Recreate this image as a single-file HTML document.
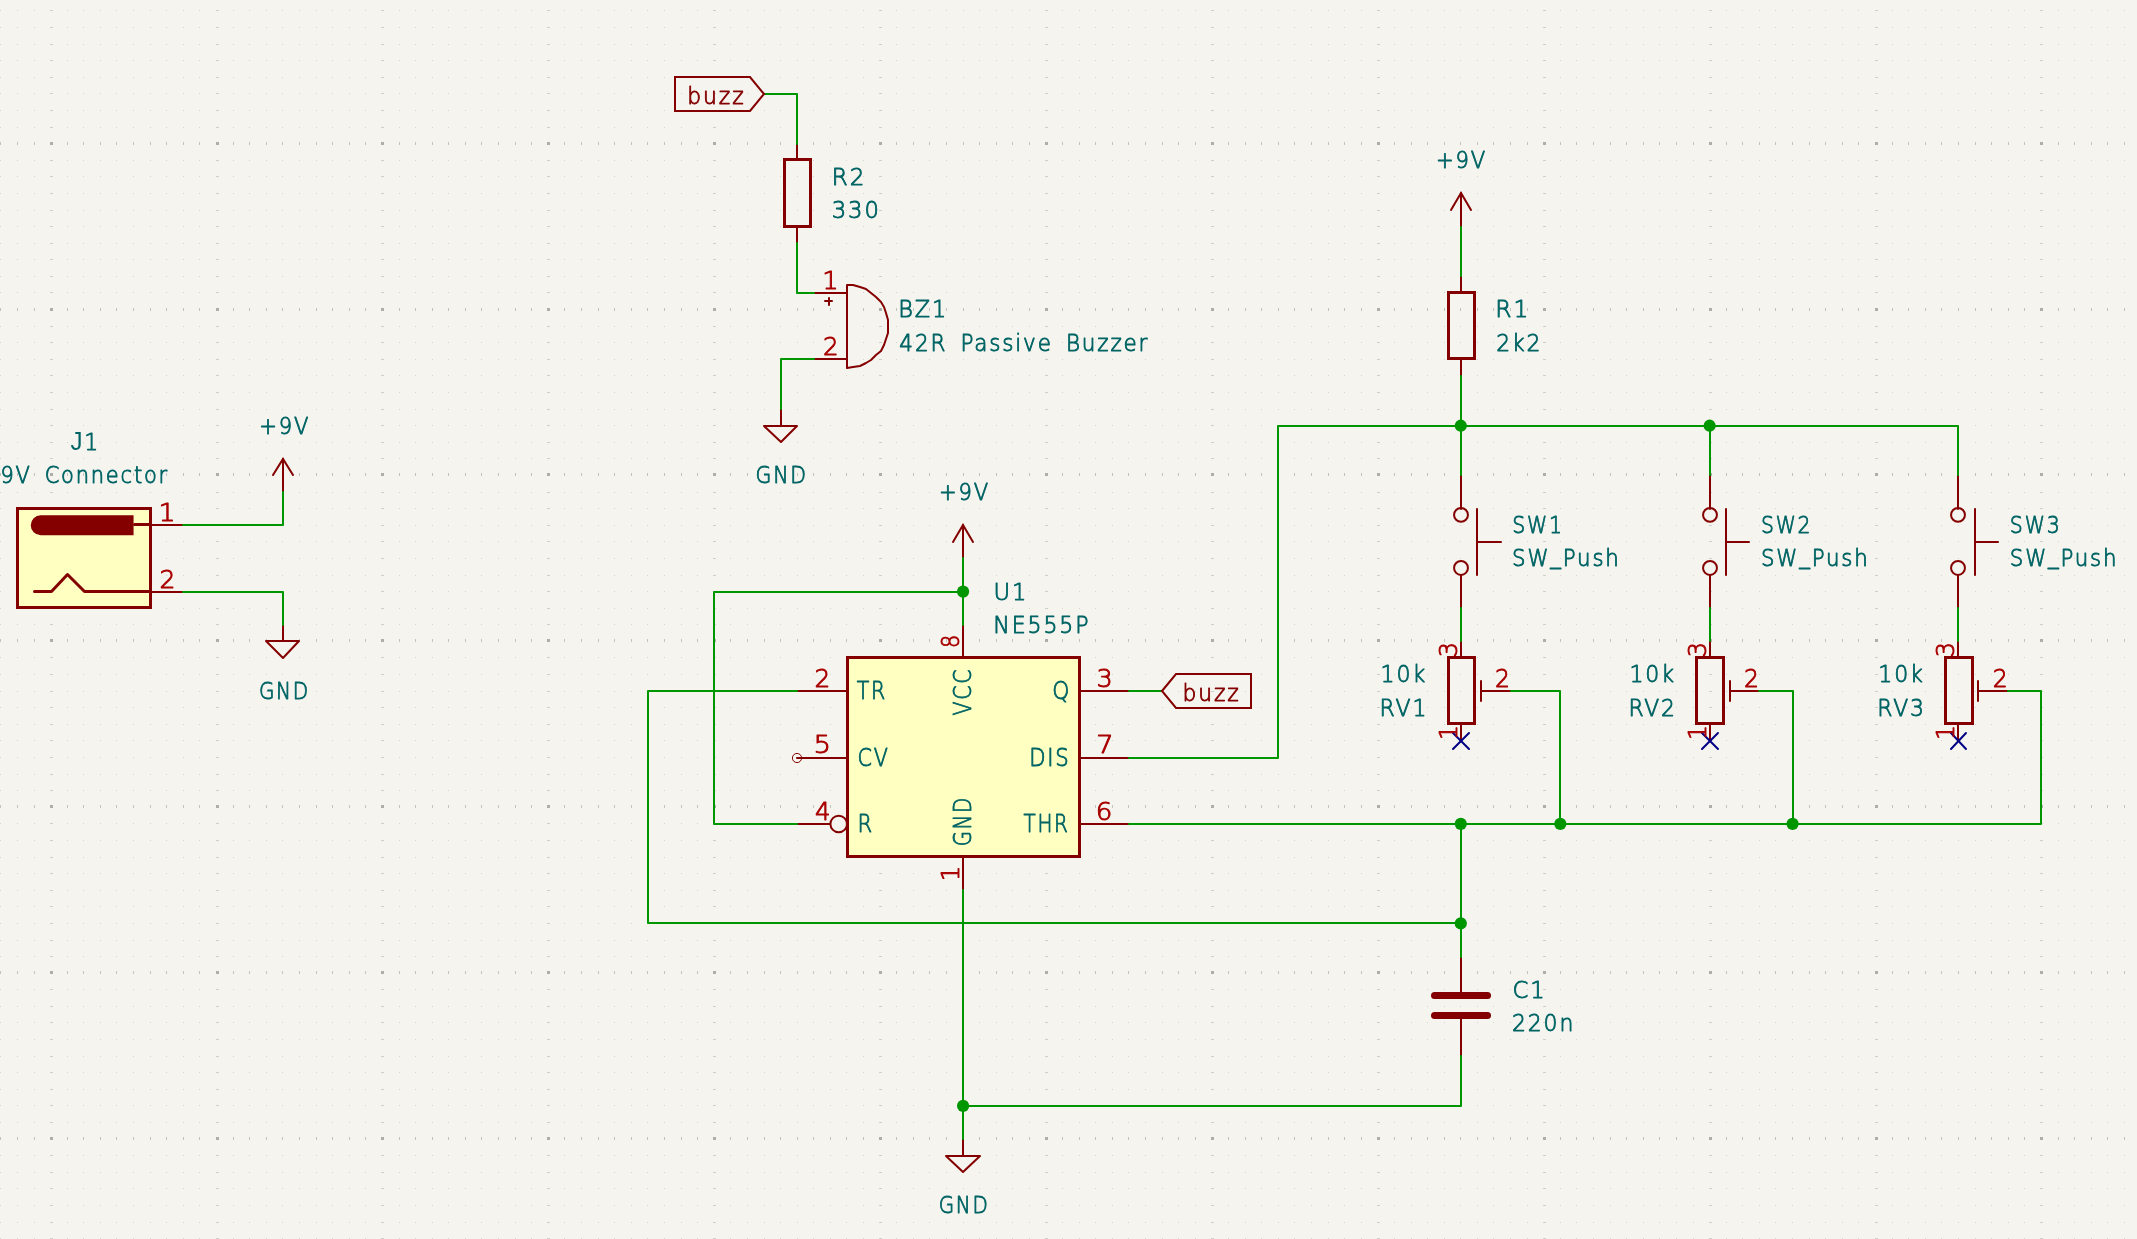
<!DOCTYPE html>
<html><head><meta charset="utf-8"><title>555 buzzer schematic</title>
<style>html,body{margin:0;padding:0;background:#F5F4EF;overflow:hidden}svg{display:block;will-change:transform}</style></head>
<body>
<svg width="2137" height="1239" viewBox="0 0 2137 1239">
<rect width="2137" height="1239" fill="#F5F4EF"/>
<defs><g id="gr" fill="none" stroke-width="1"><path d="M-16 0h1M0 0h1M17 0h1M34 0h1M67 0h1M83 0h1M100 0h1M116 0h1M133 0h1M150 0h1M166 0h1M183 0h1M199 0h1M233 0h1M249 0h1M266 0h1M282 0h1M299 0h1M316 0h1M332 0h1M349 0h1M365 0h1M399 0h1M415 0h1M432 0h1M448 0h1M465 0h1M481 0h1M498 0h1M515 0h1M531 0h1M564 0h1M581 0h1M598 0h1M614 0h1M631 0h1M647 0h1M664 0h1M681 0h1M697 0h1M730 0h1M747 0h1M764 0h1M780 0h1M797 0h1M813 0h1M830 0h1M846 0h1M863 0h1M896 0h1M913 0h1M929 0h1M946 0h1M963 0h1M979 0h1M996 0h1M1012 0h1M1029 0h1M1062 0h1M1079 0h1M1095 0h1M1112 0h1M1128 0h1M1145 0h1M1162 0h1M1178 0h1M1195 0h1M1228 0h1M1245 0h1M1261 0h1M1278 0h1M1294 0h1M1311 0h1M1328 0h1M1344 0h1M1361 0h1M1394 0h1M1411 0h1M1427 0h1M1444 0h1M1460 0h1M1477 0h1M1493 0h1M1510 0h1M1527 0h1M1560 0h1M1576 0h1M1593 0h1M1610 0h1M1626 0h1M1643 0h1M1659 0h1M1676 0h1M1693 0h1M1726 0h1M1742 0h1M1759 0h1M1775 0h1M1792 0h1M1809 0h1M1825 0h1M1842 0h1M1858 0h1M1892 0h1M1908 0h1M1925 0h1M1941 0h1M1958 0h1M1975 0h1M1991 0h1M2008 0h1M2024 0h1M2058 0h1M2074 0h1M2091 0h1M2107 0h1M2124 0h1" stroke="#d4d4d1"/><path d="M50 0h3M216 0h3M381 0h3M547 0h3M713 0h3M879 0h3M1045 0h3M1211 0h3M1377 0h3M1543 0h3M1709 0h3M1875 0h3M2040 0h3" stroke="#cececb"/></g><g id="gb" fill="none" stroke-width="3"><path d="M-16 0h1M0 0h1M17 0h1M34 0h1M67 0h1M83 0h1M100 0h1M116 0h1M133 0h1M150 0h1M166 0h1M183 0h1M199 0h1M233 0h1M249 0h1M266 0h1M282 0h1M299 0h1M316 0h1M332 0h1M349 0h1M365 0h1M399 0h1M415 0h1M432 0h1M448 0h1M465 0h1M481 0h1M498 0h1M515 0h1M531 0h1M564 0h1M581 0h1M598 0h1M614 0h1M631 0h1M647 0h1M664 0h1M681 0h1M697 0h1M730 0h1M747 0h1M764 0h1M780 0h1M797 0h1M813 0h1M830 0h1M846 0h1M863 0h1M896 0h1M913 0h1M929 0h1M946 0h1M963 0h1M979 0h1M996 0h1M1012 0h1M1029 0h1M1062 0h1M1079 0h1M1095 0h1M1112 0h1M1128 0h1M1145 0h1M1162 0h1M1178 0h1M1195 0h1M1228 0h1M1245 0h1M1261 0h1M1278 0h1M1294 0h1M1311 0h1M1328 0h1M1344 0h1M1361 0h1M1394 0h1M1411 0h1M1427 0h1M1444 0h1M1460 0h1M1477 0h1M1493 0h1M1510 0h1M1527 0h1M1560 0h1M1576 0h1M1593 0h1M1610 0h1M1626 0h1M1643 0h1M1659 0h1M1676 0h1M1693 0h1M1726 0h1M1742 0h1M1759 0h1M1775 0h1M1792 0h1M1809 0h1M1825 0h1M1842 0h1M1858 0h1M1892 0h1M1908 0h1M1925 0h1M1941 0h1M1958 0h1M1975 0h1M1991 0h1M2008 0h1M2024 0h1M2058 0h1M2074 0h1M2091 0h1M2107 0h1M2124 0h1" stroke="#c2c2bf"/><path d="M50 0h3M216 0h3M381 0h3M547 0h3M713 0h3M879 0h3M1045 0h3M1211 0h3M1377 0h3M1543 0h3M1709 0h3M1875 0h3M2040 0h3" stroke="#adadab"/></g></defs>
<g shape-rendering="crispEdges"><use href="#gb" y="-22.5"/><use href="#gr" y="-5.5"/><use href="#gr" y="10.5"/><use href="#gr" y="27.5"/><use href="#gr" y="44.5"/><use href="#gr" y="60.5"/><use href="#gr" y="77.5"/><use href="#gr" y="93.5"/><use href="#gr" y="110.5"/><use href="#gr" y="127.5"/><use href="#gb" y="143.5"/><use href="#gr" y="160.5"/><use href="#gr" y="176.5"/><use href="#gr" y="193.5"/><use href="#gr" y="210.5"/><use href="#gr" y="226.5"/><use href="#gr" y="243.5"/><use href="#gr" y="259.5"/><use href="#gr" y="276.5"/><use href="#gr" y="292.5"/><use href="#gb" y="309.5"/><use href="#gr" y="326.5"/><use href="#gr" y="342.5"/><use href="#gr" y="359.5"/><use href="#gr" y="375.5"/><use href="#gr" y="392.5"/><use href="#gr" y="409.5"/><use href="#gr" y="425.5"/><use href="#gr" y="442.5"/><use href="#gr" y="458.5"/><use href="#gb" y="474.5"/><use href="#gr" y="492.5"/><use href="#gr" y="508.5"/><use href="#gr" y="525.5"/><use href="#gr" y="541.5"/><use href="#gr" y="558.5"/><use href="#gr" y="575.5"/><use href="#gr" y="591.5"/><use href="#gr" y="608.5"/><use href="#gr" y="624.5"/><use href="#gb" y="640.5"/><use href="#gr" y="657.5"/><use href="#gr" y="674.5"/><use href="#gr" y="691.5"/><use href="#gr" y="707.5"/><use href="#gr" y="724.5"/><use href="#gr" y="740.5"/><use href="#gr" y="757.5"/><use href="#gr" y="774.5"/><use href="#gr" y="790.5"/><use href="#gb" y="806.5"/><use href="#gr" y="823.5"/><use href="#gr" y="840.5"/><use href="#gr" y="857.5"/><use href="#gr" y="873.5"/><use href="#gr" y="890.5"/><use href="#gr" y="906.5"/><use href="#gr" y="923.5"/><use href="#gr" y="940.5"/><use href="#gr" y="956.5"/><use href="#gb" y="972.5"/><use href="#gr" y="989.5"/><use href="#gr" y="1006.5"/><use href="#gr" y="1022.5"/><use href="#gr" y="1039.5"/><use href="#gr" y="1056.5"/><use href="#gr" y="1072.5"/><use href="#gr" y="1089.5"/><use href="#gr" y="1105.5"/><use href="#gr" y="1122.5"/><use href="#gb" y="1138.5"/><use href="#gr" y="1155.5"/><use href="#gr" y="1172.5"/><use href="#gr" y="1188.5"/><use href="#gr" y="1205.5"/><use href="#gr" y="1222.5"/><use href="#gr" y="1238.5"/></g>
<rect x="17.45" y="508.66" width="132.72" height="99.54" fill="#FFFFC2"/>
<path d="M17.5 508.5 L150.5 508.5 L150.5 607.5 L17.5 607.5 Z" stroke="#840000" stroke-width="3" fill="none" stroke-linecap="round" stroke-linejoin="miter"/>
<path d="M40.68 516.96 L131.92 516.96 L131.92 533.55 L40.68 533.55 A8.29 8.29 0 0 1 40.68 516.96 Z" fill="#840000" stroke="#840000" stroke-width="3.3" stroke-linejoin="miter"/>
<path d="M150.5 524.5 L134.5 524.5" stroke="#840000" stroke-width="3" fill="none" stroke-linecap="round" stroke-linejoin="round"/>
<path d="M34.5 591.5 L51.5 591.5 L67.5 574.5 L84.5 591.5 L117.5 591.5 L150.5 591.5" stroke="#840000" stroke-width="3" fill="none" stroke-linecap="round" stroke-linejoin="round"/>
<path d="M183 525 L150 525" stroke="#840000" stroke-width="2" fill="none" stroke-linecap="round" stroke-linejoin="round"/>
<path d="M183 592 L150 592" stroke="#840000" stroke-width="2" fill="none" stroke-linecap="round" stroke-linejoin="round"/>
<path d="M283 492 L283 459" stroke="#840000" stroke-width="2" fill="none" stroke-linecap="round" stroke-linejoin="round"/>
<path d="M273 475 L283 459 L293 475" stroke="#840000" stroke-width="2" fill="none" stroke-linecap="round" stroke-linejoin="miter"/>
<path d="M283 625 L283 641 L299 641 L283 658 L266 641 L283 641" stroke="#840000" stroke-width="2" fill="none" stroke-linecap="round" stroke-linejoin="round"/>
<path d="M797 144 L797 160" stroke="#840000" stroke-width="2" fill="none" stroke-linecap="round" stroke-linejoin="round"/>
<path d="M797 243 L797 227" stroke="#840000" stroke-width="2" fill="none" stroke-linecap="round" stroke-linejoin="round"/>
<path d="M784.5 159.5 L810.5 159.5 L810.5 226.5 L784.5 226.5 Z" stroke="#840000" stroke-width="3" fill="none" stroke-linecap="round" stroke-linejoin="miter"/>
<path d="M814 293 L847 293" stroke="#840000" stroke-width="2" fill="none" stroke-linecap="round" stroke-linejoin="round"/>
<path d="M814 359 L847 359" stroke="#840000" stroke-width="2" fill="none" stroke-linecap="round" stroke-linejoin="round"/>
<path d="M847 368 L847 285 L853 285 L860 287 L866 289 L871 293 L876 297 L881 302 L884 307 L886 313 L888 320 L888 326 L888 333 L886 339 L884 345 L881 351 L876 355 L871 360 L866 363 L860 366 L853 367 L847 368" stroke="#840000" stroke-width="2" fill="none" stroke-linecap="round" stroke-linejoin="round"/>
<path d="M825 301 L832 301" stroke="#840000" stroke-width="2" fill="none" stroke-linecap="round" stroke-linejoin="round"/>
<path d="M829 298 L829 305" stroke="#840000" stroke-width="2" fill="none" stroke-linecap="round" stroke-linejoin="round"/>
<path d="M781 409 L781 426 L797 426 L781 442 L764 426 L781 426" stroke="#840000" stroke-width="2" fill="none" stroke-linecap="round" stroke-linejoin="round"/>
<rect x="846.95" y="657.97" width="232.26" height="199.08" fill="#FFFFC2"/>
<path d="M847.5 657.5 L1079.5 657.5 L1079.5 856.5 L847.5 856.5 Z" stroke="#840000" stroke-width="3" fill="none" stroke-linecap="round" stroke-linejoin="miter"/>
<path d="M797 691 L847 691" stroke="#840000" stroke-width="2" fill="none" stroke-linecap="round" stroke-linejoin="round"/>
<path d="M797 758 L847 758" stroke="#840000" stroke-width="2" fill="none" stroke-linecap="round" stroke-linejoin="round"/>
<path d="M797 824 L830 824" stroke="#840000" stroke-width="2" fill="none" stroke-linecap="round" stroke-linejoin="round"/>
<circle cx="838.71" cy="824" r="8.29" stroke="#840000" stroke-width="2" fill="none"/>
<circle cx="797" cy="758" r="4.6" stroke="#840000" stroke-width="1" fill="none"/>
<path d="M1079 691 L1129 691" stroke="#840000" stroke-width="2" fill="none" stroke-linecap="round" stroke-linejoin="round"/>
<path d="M1079 758 L1129 758" stroke="#840000" stroke-width="2" fill="none" stroke-linecap="round" stroke-linejoin="round"/>
<path d="M1079 824 L1129 824" stroke="#840000" stroke-width="2" fill="none" stroke-linecap="round" stroke-linejoin="round"/>
<path d="M963 625 L963 658" stroke="#840000" stroke-width="2" fill="none" stroke-linecap="round" stroke-linejoin="round"/>
<path d="M963 890 L963 857" stroke="#840000" stroke-width="2" fill="none" stroke-linecap="round" stroke-linejoin="round"/>
<path d="M963 558 L963 525" stroke="#840000" stroke-width="2" fill="none" stroke-linecap="round" stroke-linejoin="round"/>
<path d="M953 542 L963 525 L973 542" stroke="#840000" stroke-width="2" fill="none" stroke-linecap="round" stroke-linejoin="miter"/>
<path d="M963 1139 L963 1156 L980 1156 L963 1172 L946 1156 L963 1156" stroke="#840000" stroke-width="2" fill="none" stroke-linecap="round" stroke-linejoin="round"/>
<path d="M1461 227 L1461 193" stroke="#840000" stroke-width="2" fill="none" stroke-linecap="round" stroke-linejoin="round"/>
<path d="M1451 210 L1461 193 L1471 210" stroke="#840000" stroke-width="2" fill="none" stroke-linecap="round" stroke-linejoin="miter"/>
<path d="M1461 276 L1461 293" stroke="#840000" stroke-width="2" fill="none" stroke-linecap="round" stroke-linejoin="round"/>
<path d="M1461 376 L1461 359" stroke="#840000" stroke-width="2" fill="none" stroke-linecap="round" stroke-linejoin="round"/>
<path d="M1448.5 292.5 L1474.5 292.5 L1474.5 358.5 L1448.5 358.5 Z" stroke="#840000" stroke-width="3" fill="none" stroke-linecap="round" stroke-linejoin="miter"/>
<path d="M1461 475 L1461 509" stroke="#840000" stroke-width="2" fill="none" stroke-linecap="round" stroke-linejoin="round"/>
<path d="M1461 608 L1461 575" stroke="#840000" stroke-width="2" fill="none" stroke-linecap="round" stroke-linejoin="round"/>
<circle cx="1461" cy="514.9" r="6.94" stroke="#840000" stroke-width="2" fill="none"/>
<circle cx="1461" cy="567.98" r="6.94" stroke="#840000" stroke-width="2" fill="none"/>
<path d="M1477 509 L1477 575" stroke="#840000" stroke-width="2" fill="none" stroke-linecap="round" stroke-linejoin="round"/>
<path d="M1477 542 L1501 542" stroke="#840000" stroke-width="2" fill="none" stroke-linecap="round" stroke-linejoin="round"/>
<path d="M1461 641 L1461 658" stroke="#840000" stroke-width="2" fill="none" stroke-linecap="round" stroke-linejoin="round"/>
<path d="M1461 741 L1461 724" stroke="#840000" stroke-width="2" fill="none" stroke-linecap="round" stroke-linejoin="round"/>
<path d="M1448.5 657.5 L1474.5 657.5 L1474.5 723.5 L1448.5 723.5 Z" stroke="#840000" stroke-width="3" fill="none" stroke-linecap="round" stroke-linejoin="miter"/>
<path d="M1481 681 L1481 701" stroke="#840000" stroke-width="2" fill="none" stroke-linecap="round" stroke-linejoin="round"/>
<path d="M1511 691 L1481 691" stroke="#840000" stroke-width="2" fill="none" stroke-linecap="round" stroke-linejoin="round"/>
<path d="M1453 733 L1469 749" stroke="#000084" stroke-width="2" fill="none" stroke-linecap="round" stroke-linejoin="round"/>
<path d="M1453 749 L1469 733" stroke="#000084" stroke-width="2" fill="none" stroke-linecap="round" stroke-linejoin="round"/>
<path d="M1710 475 L1710 509" stroke="#840000" stroke-width="2" fill="none" stroke-linecap="round" stroke-linejoin="round"/>
<path d="M1710 608 L1710 575" stroke="#840000" stroke-width="2" fill="none" stroke-linecap="round" stroke-linejoin="round"/>
<circle cx="1710" cy="514.9" r="6.94" stroke="#840000" stroke-width="2" fill="none"/>
<circle cx="1710" cy="567.98" r="6.94" stroke="#840000" stroke-width="2" fill="none"/>
<path d="M1726 509 L1726 575" stroke="#840000" stroke-width="2" fill="none" stroke-linecap="round" stroke-linejoin="round"/>
<path d="M1726 542 L1749 542" stroke="#840000" stroke-width="2" fill="none" stroke-linecap="round" stroke-linejoin="round"/>
<path d="M1710 641 L1710 658" stroke="#840000" stroke-width="2" fill="none" stroke-linecap="round" stroke-linejoin="round"/>
<path d="M1710 741 L1710 724" stroke="#840000" stroke-width="2" fill="none" stroke-linecap="round" stroke-linejoin="round"/>
<path d="M1696.5 657.5 L1723.5 657.5 L1723.5 723.5 L1696.5 723.5 Z" stroke="#840000" stroke-width="3" fill="none" stroke-linecap="round" stroke-linejoin="miter"/>
<path d="M1730 681 L1730 701" stroke="#840000" stroke-width="2" fill="none" stroke-linecap="round" stroke-linejoin="round"/>
<path d="M1759 691 L1730 691" stroke="#840000" stroke-width="2" fill="none" stroke-linecap="round" stroke-linejoin="round"/>
<path d="M1702 733 L1718 749" stroke="#000084" stroke-width="2" fill="none" stroke-linecap="round" stroke-linejoin="round"/>
<path d="M1702 749 L1718 733" stroke="#000084" stroke-width="2" fill="none" stroke-linecap="round" stroke-linejoin="round"/>
<path d="M1958 475 L1958 509" stroke="#840000" stroke-width="2" fill="none" stroke-linecap="round" stroke-linejoin="round"/>
<path d="M1958 608 L1958 575" stroke="#840000" stroke-width="2" fill="none" stroke-linecap="round" stroke-linejoin="round"/>
<circle cx="1958" cy="514.9" r="6.94" stroke="#840000" stroke-width="2" fill="none"/>
<circle cx="1958" cy="567.98" r="6.94" stroke="#840000" stroke-width="2" fill="none"/>
<path d="M1975 509 L1975 575" stroke="#840000" stroke-width="2" fill="none" stroke-linecap="round" stroke-linejoin="round"/>
<path d="M1975 542 L1998 542" stroke="#840000" stroke-width="2" fill="none" stroke-linecap="round" stroke-linejoin="round"/>
<path d="M1958 641 L1958 658" stroke="#840000" stroke-width="2" fill="none" stroke-linecap="round" stroke-linejoin="round"/>
<path d="M1958 741 L1958 724" stroke="#840000" stroke-width="2" fill="none" stroke-linecap="round" stroke-linejoin="round"/>
<path d="M1945.5 657.5 L1972.5 657.5 L1972.5 723.5 L1945.5 723.5 Z" stroke="#840000" stroke-width="3" fill="none" stroke-linecap="round" stroke-linejoin="miter"/>
<path d="M1978 681 L1978 701" stroke="#840000" stroke-width="2" fill="none" stroke-linecap="round" stroke-linejoin="round"/>
<path d="M2008 691 L1978 691" stroke="#840000" stroke-width="2" fill="none" stroke-linecap="round" stroke-linejoin="round"/>
<path d="M1951 733 L1966 749" stroke="#000084" stroke-width="2" fill="none" stroke-linecap="round" stroke-linejoin="round"/>
<path d="M1951 749 L1966 733" stroke="#000084" stroke-width="2" fill="none" stroke-linecap="round" stroke-linejoin="round"/>
<path d="M1461 957 L1461 996" stroke="#840000" stroke-width="2" fill="none" stroke-linecap="round" stroke-linejoin="round"/>
<path d="M1461 1056 L1461 1016" stroke="#840000" stroke-width="2" fill="none" stroke-linecap="round" stroke-linejoin="round"/>
<path d="M1434.5 995.5 L1487.5 995.5" stroke="#840000" stroke-width="7" fill="none" stroke-linecap="round" stroke-linejoin="round"/>
<path d="M1434.5 1015.5 L1487.5 1015.5" stroke="#840000" stroke-width="7" fill="none" stroke-linecap="round" stroke-linejoin="round"/>
<path d="M183 525 L283 525 L283 492" stroke="#009600" stroke-width="2" fill="none" stroke-linecap="round" stroke-linejoin="round"/>
<path d="M183 592 L283 592 L283 625" stroke="#009600" stroke-width="2" fill="none" stroke-linecap="round" stroke-linejoin="round"/>
<path d="M764 94 L797 94 L797 144" stroke="#009600" stroke-width="2" fill="none" stroke-linecap="round" stroke-linejoin="round"/>
<path d="M797 243 L797 293 L814 293" stroke="#009600" stroke-width="2" fill="none" stroke-linecap="round" stroke-linejoin="round"/>
<path d="M814 359 L781 359 L781 409" stroke="#009600" stroke-width="2" fill="none" stroke-linecap="round" stroke-linejoin="round"/>
<path d="M963 558 L963 625" stroke="#009600" stroke-width="2" fill="none" stroke-linecap="round" stroke-linejoin="round"/>
<path d="M963 592 L714 592 L714 824 L797 824" stroke="#009600" stroke-width="2" fill="none" stroke-linecap="round" stroke-linejoin="round"/>
<path d="M797 691 L648 691 L648 923 L1461 923" stroke="#009600" stroke-width="2" fill="none" stroke-linecap="round" stroke-linejoin="round"/>
<path d="M963 890 L963 1139" stroke="#009600" stroke-width="2" fill="none" stroke-linecap="round" stroke-linejoin="round"/>
<path d="M963 1106 L1461 1106 L1461 1056" stroke="#009600" stroke-width="2" fill="none" stroke-linecap="round" stroke-linejoin="round"/>
<path d="M1129 691 L1162 691" stroke="#009600" stroke-width="2" fill="none" stroke-linecap="round" stroke-linejoin="round"/>
<path d="M1129 758 L1278 758 L1278 426 L1958 426 L1958 475" stroke="#009600" stroke-width="2" fill="none" stroke-linecap="round" stroke-linejoin="round"/>
<path d="M1461 227 L1461 276" stroke="#009600" stroke-width="2" fill="none" stroke-linecap="round" stroke-linejoin="round"/>
<path d="M1461 376 L1461 475" stroke="#009600" stroke-width="2" fill="none" stroke-linecap="round" stroke-linejoin="round"/>
<path d="M1710 426 L1710 475" stroke="#009600" stroke-width="2" fill="none" stroke-linecap="round" stroke-linejoin="round"/>
<path d="M1461 608 L1461 641" stroke="#009600" stroke-width="2" fill="none" stroke-linecap="round" stroke-linejoin="round"/>
<path d="M1710 608 L1710 641" stroke="#009600" stroke-width="2" fill="none" stroke-linecap="round" stroke-linejoin="round"/>
<path d="M1958 608 L1958 641" stroke="#009600" stroke-width="2" fill="none" stroke-linecap="round" stroke-linejoin="round"/>
<path d="M1129 824 L2041 824 L2041 691 L2008 691" stroke="#009600" stroke-width="2" fill="none" stroke-linecap="round" stroke-linejoin="round"/>
<path d="M1511 691 L1560 691 L1560 824" stroke="#009600" stroke-width="2" fill="none" stroke-linecap="round" stroke-linejoin="round"/>
<path d="M1759 691 L1793 691 L1793 824" stroke="#009600" stroke-width="2" fill="none" stroke-linecap="round" stroke-linejoin="round"/>
<path d="M1461 824 L1461 957" stroke="#009600" stroke-width="2" fill="none" stroke-linecap="round" stroke-linejoin="round"/>
<circle cx="963.08" cy="591.61" r="6.1" fill="#009600"/>
<circle cx="1460.78" cy="425.71" r="6.1" fill="#009600"/>
<circle cx="1709.63" cy="425.71" r="6.1" fill="#009600"/>
<circle cx="1460.78" cy="823.87" r="6.1" fill="#009600"/>
<circle cx="1560.32" cy="823.87" r="6.1" fill="#009600"/>
<circle cx="1792.58" cy="823.87" r="6.1" fill="#009600"/>
<circle cx="1460.78" cy="923.41" r="6.1" fill="#009600"/>
<circle cx="963.08" cy="1105.9" r="6.1" fill="#009600"/>
<path d="M764 94 L750 77 L675 77 L675 111 L750 111 Z" stroke="#840000" stroke-width="2" fill="none" stroke-linecap="round" stroke-linejoin="miter"/>
<path d="M1162 691 L1176 674 L1251 674 L1251 708 L1176 708 Z" stroke="#840000" stroke-width="2" fill="none" stroke-linecap="round" stroke-linejoin="miter"/>
<g style="font-family:'DejaVu Sans','Liberation Sans',sans-serif;font-weight:200;font-size:23.5px;letter-spacing:2px;word-spacing:5px;stroke-width:0.9;stroke-linejoin:round;stroke-linecap:round">
<text transform="translate(70.41 450.2) scale(0.9363 1)" fill="#006464" stroke="#006464"><tspan font-family="Liberation Sans" font-weight="400" font-size="1.09em" stroke-width="0">J</tspan>1</text>
<text transform="translate(0.46 483.38) scale(0.8933 1)" fill="#006464" stroke="#006464">9V Connector</text>
<text transform="translate(259.19 433.61) scale(0.8982 1)" fill="#006464" stroke="#006464">+9V</text>
<text transform="translate(258.88 699.05) scale(0.8494 1)" fill="#006464" stroke="#006464">GND</text>
<text transform="translate(831.85 184.76) scale(0.9798 1)" fill="#006464" stroke="#006464">R2</text>
<text transform="translate(831.74 217.94) scale(0.9658 1)" fill="#006464" stroke="#006464">330</text>
<text transform="translate(898.21 317.48) scale(0.9539 1)" fill="#006464" stroke="#006464">BZ1</text>
<text transform="translate(899.37 350.66) scale(0.9153 1)" fill="#006464" stroke="#006464">42R Passive Buzzer</text>
<text transform="translate(755.54 483.38) scale(0.8713 1)" fill="#006464" stroke="#006464">GND</text>
<text transform="translate(938.99 499.97) scale(0.8982 1)" fill="#006464" stroke="#006464">+9V</text>
<text transform="translate(993.45 599.51) scale(0.9662 1)" fill="#006464" stroke="#006464">U1</text>
<text transform="translate(993.3 632.69) scale(0.9389 1)" fill="#006464" stroke="#006464">NE555P</text>
<text transform="translate(1435.98 168.17) scale(0.9020 1)" fill="#006464" stroke="#006464">+9V</text>
<text transform="translate(1495.21 317.48) scale(0.9955 1)" fill="#006464" stroke="#006464">R1</text>
<text transform="translate(1496.16 350.66) scale(0.9314 1)" fill="#006464" stroke="#006464">2k2</text>
<text transform="translate(1512.17 533.15) scale(0.8726 1)" fill="#006464" stroke="#006464">SW1</text>
<text transform="translate(1512.11 566.33) scale(0.9073 1)" fill="#006464" stroke="#006464">SW<tspan dy="-3.6">_</tspan><tspan dy="3.6">Push</tspan></text>
<text transform="translate(1380.56 682.46) scale(0.9394 1)" fill="#006464" stroke="#006464">10k</text>
<text transform="translate(1379.55 715.64) scale(0.9359 1)" fill="#006464" stroke="#006464">RV1</text>
<text transform="translate(1456.68 657.26) rotate(-90) scale(0.9941 1)" font-size="24" fill="#A90000" stroke="#A90000">3</text>
<text transform="translate(1495.06 687.05) scale(0.9792 1)" font-size="24" fill="#A90000" stroke="#A90000">2</text>
<text transform="translate(1456.68 739.9) rotate(-90) scale(0.9815 1)" font-size="24" fill="#A90000" stroke="#A90000">1</text>
<text transform="translate(1761.03 533.15) scale(0.8669 1)" fill="#006464" stroke="#006464">SW2</text>
<text transform="translate(1760.96 566.33) scale(0.9073 1)" fill="#006464" stroke="#006464">SW<tspan dy="-3.6">_</tspan><tspan dy="3.6">Push</tspan></text>
<text transform="translate(1629.41 682.46) scale(0.9394 1)" fill="#006464" stroke="#006464">10k</text>
<text transform="translate(1628.42 715.64) scale(0.9298 1)" fill="#006464" stroke="#006464">RV2</text>
<text transform="translate(1705.53 657.26) rotate(-90) scale(0.9941 1)" font-size="24" fill="#A90000" stroke="#A90000">3</text>
<text transform="translate(1743.91 687.05) scale(0.9792 1)" font-size="24" fill="#A90000" stroke="#A90000">2</text>
<text transform="translate(1705.53 739.9) rotate(-90) scale(0.9815 1)" font-size="24" fill="#A90000" stroke="#A90000">1</text>
<text transform="translate(2009.87 533.15) scale(0.8725 1)" fill="#006464" stroke="#006464">SW3</text>
<text transform="translate(2009.81 566.33) scale(0.9073 1)" fill="#006464" stroke="#006464">SW<tspan dy="-3.6">_</tspan><tspan dy="3.6">Push</tspan></text>
<text transform="translate(1878.26 682.46) scale(0.9394 1)" fill="#006464" stroke="#006464">10k</text>
<text transform="translate(1877.26 715.64) scale(0.9319 1)" fill="#006464" stroke="#006464">RV3</text>
<text transform="translate(1954.38 657.26) rotate(-90) scale(0.9941 1)" font-size="24" fill="#A90000" stroke="#A90000">3</text>
<text transform="translate(1992.76 687.05) scale(0.9792 1)" font-size="24" fill="#A90000" stroke="#A90000">2</text>
<text transform="translate(1954.38 739.9) rotate(-90) scale(0.9815 1)" font-size="24" fill="#A90000" stroke="#A90000">1</text>
<text transform="translate(1512.41 997.67) scale(0.9673 1)" fill="#006464" stroke="#006464">C1</text>
<text transform="translate(1511.95 1030.85) scale(0.9345 1)" fill="#006464" stroke="#006464">220n</text>
<text transform="translate(938.68 1213.34) scale(0.8476 1)" fill="#006464" stroke="#006464">GND</text>
<text transform="translate(856.86 699.25) scale(0.8562 1)" font-size="24" fill="#006464" stroke="#006464">TR</text>
<text transform="translate(857.5 765.61) scale(0.8608 1)" font-size="24" fill="#006464" stroke="#006464">CV</text>
<text transform="translate(857.52 831.97) scale(0.8785 1)" font-size="24" fill="#006464" stroke="#006464">R</text>
<text transform="translate(1052.36 699.25) scale(0.9075 1)" font-size="24" fill="#006464" stroke="#006464">Q</text>
<text transform="translate(1029.14 765.61) scale(0.8840 1)" font-size="24" fill="#006464" stroke="#006464">DIS</text>
<text transform="translate(1023.56 831.97) scale(0.8309 1)" font-size="24" fill="#006464" stroke="#006464">THR</text>
<text transform="translate(971.18 715.44) rotate(-90) scale(0.8535 1)" font-size="24" fill="#006464" stroke="#006464">VCC</text>
<text transform="translate(971.18 846.33) rotate(-90) scale(0.8213 1)" font-size="24" fill="#006464" stroke="#006464">GND</text>
<text transform="translate(158.5 521.15) scale(1.1204 1)" font-size="24" fill="#A90000" stroke="#A90000">1</text>
<text transform="translate(159.39 587.51) scale(1.0450 1)" font-size="24" fill="#A90000" stroke="#A90000">2</text>
<text transform="translate(822.3 288.89) scale(1.0741 1)" font-size="24" fill="#A90000" stroke="#A90000">1</text>
<text transform="translate(823.02 355.25) scale(1.0203 1)" font-size="24" fill="#A90000" stroke="#A90000">2</text>
<text transform="translate(814.6 687.05) scale(1.0368 1)" font-size="24" fill="#A90000" stroke="#A90000">2</text>
<text transform="translate(813.5 753.41) scale(1.1504 1)" font-size="24" fill="#A90000" stroke="#A90000">5</text>
<text transform="translate(815.07 819.77) scale(1.0136 1)" font-size="24" fill="#A90000" stroke="#A90000">4</text>
<text transform="translate(1096.44 687.05) scale(1.0632 1)" font-size="24" fill="#A90000" stroke="#A90000">3</text>
<text transform="translate(1096.19 753.41) scale(1.1353 1)" font-size="24" fill="#A90000" stroke="#A90000">7</text>
<text transform="translate(1095.67 819.77) scale(1.0895 1)" font-size="24" fill="#A90000" stroke="#A90000">6</text>
<text transform="translate(958.98 648.08) rotate(-90) scale(0.8653 1)" font-size="24" fill="#A90000" stroke="#A90000">8</text>
<text transform="translate(958.98 881.18) rotate(-90) scale(1.0185 1)" font-size="24" fill="#A90000" stroke="#A90000">1</text>
<text transform="translate(687.37 103.8) scale(0.9304 1)" fill="#840000" stroke="#840000">buzz</text>
<text transform="translate(1182.57 700.6) scale(0.9304 1)" fill="#840000" stroke="#840000">buzz</text>
</g>
</svg>
</body></html>
